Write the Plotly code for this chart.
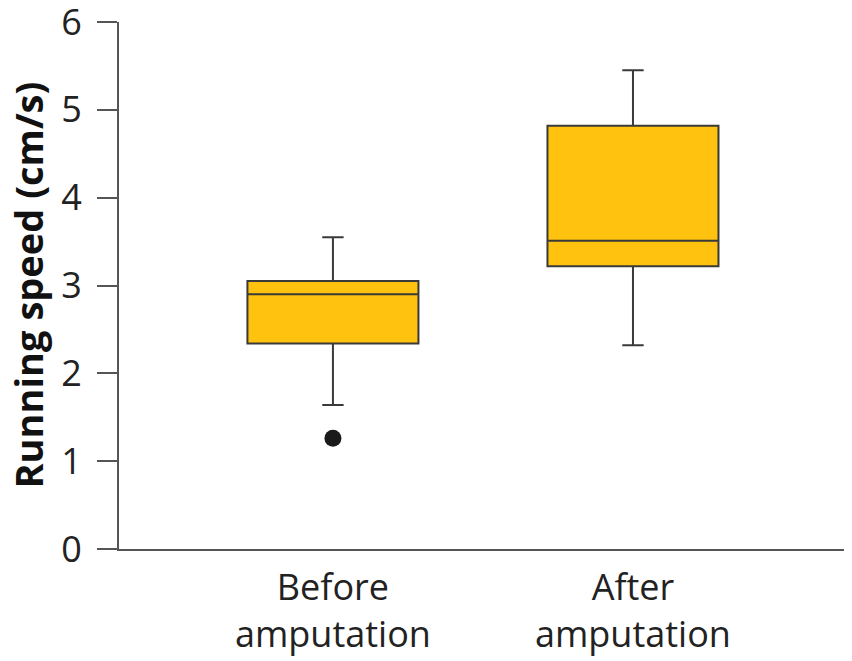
import plotly.graph_objects as go

groups = ["Before<br>amputation", "After<br>amputation"]
group_pos = [0, 1]
q1 = [2.34, 3.22]
median = [2.90, 3.51]
q3 = [3.05, 4.82]
lower_whisker = [1.64, 2.32]
upper_whisker = [3.55, 5.45]
outlier_x = [0]
outlier_y = [1.26]
y_ticks = [0, 1, 2, 3, 4, 5, 6]
y_title = "Running speed (cm/s)"

FONT = "Open Sans"
AX = "#555555"
TXT = "#222222"

fig = go.Figure()
fig.add_trace(go.Box(
    x=group_pos, q1=q1, median=median, q3=q3,
    lowerfence=lower_whisker, upperfence=upper_whisker,
    width=0.57, whiskerwidth=0.125,
    fillcolor="#FFC20E", line=dict(color="#3a3a3a", width=2),
    boxpoints=False, showlegend=False, hoverinfo="skip",
))
fig.add_trace(go.Scatter(
    x=outlier_x, y=outlier_y, mode="markers",
    marker=dict(color="#1a1a1a", size=17), showlegend=False,
))

fig.update_layout(
    width=844, height=653,
    margin=dict(l=111, r=0, t=14, b=112, autoexpand=False),
    paper_bgcolor="white", plot_bgcolor="white",
    font=dict(family=FONT, size=36, color=TXT),
    xaxis=dict(
        range=[-0.713, 1.73], tickmode="array", tickvals=group_pos, ticktext=groups,
        showgrid=False, zeroline=False, showline=True, linecolor=AX, linewidth=2,
        ticks="outside", ticklen=6, tickcolor="rgba(0,0,0,0)",
        tickfont=dict(family=FONT, size=36, color=TXT),
        ticklabeloverflow="allow", automargin=False,
    ),
    yaxis=dict(
        range=[0, 6], tickmode="array", tickvals=y_ticks,
        showgrid=False, zeroline=False, showline=True, linecolor=AX, linewidth=2,
        ticks="outside", ticklen=20, tickwidth=2, tickcolor=AX,
        ticklabelstandoff=8, ticklabeloverflow="allow", automargin=False,
        tickfont=dict(family=FONT, size=36, color=TXT),
    ),
    annotations=[dict(
        text="<b>" + y_title + "</b>", textangle=-90,
        xref="paper", yref="paper", x=0, y=0.5,
        xanchor="center", yanchor="middle", xshift=-92, showarrow=False,
        font=dict(family=FONT, size=38, color="#111111"),
    )],
)

fig.write_html("out.html")
